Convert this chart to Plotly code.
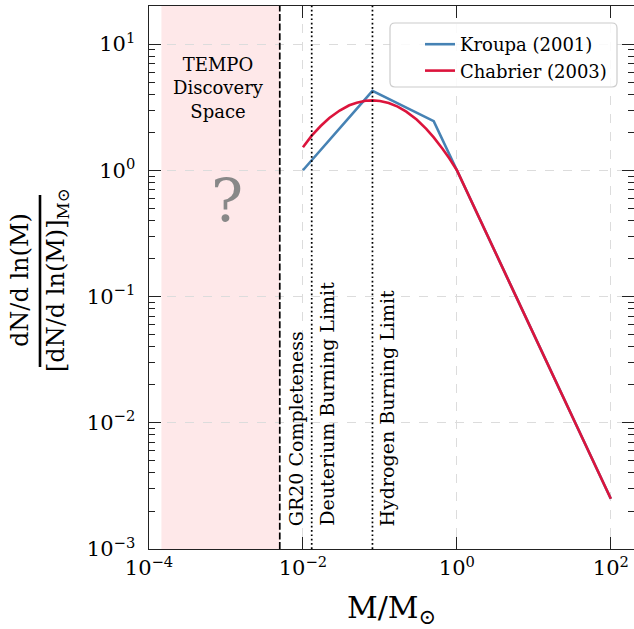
import numpy as np
import plotly.graph_objects as go

# Kroupa (2001) broken power law, normalised to 1 at M = 1 Msun
kroupa_mass = [0.01, 0.08, 0.5, 1.0, 100.0]
kroupa_val = [1.0, 4.26, 2.45, 1.0, 0.0025]

# Chabrier (2003) log-normal + power-law tail, normalised to 1 at M = 1 Msun
chabrier_mass = [0.01, 0.013, 0.017, 0.022, 0.03, 0.04, 0.05, 0.065, 0.08, 0.1,
                 0.13, 0.17, 0.22, 0.3, 0.4, 0.5, 0.65, 0.8, 1.0, 100.0]
chabrier_val = [1.52, 1.88, 2.24, 2.59, 2.97, 3.27, 3.43, 3.55, 3.58, 3.54,
                3.41, 3.19, 2.91, 2.52, 2.13, 1.82, 1.48, 1.24, 1.0, 0.0025]

# Mass limits (Msun)
gr20_limit = 0.005
deuterium_limit = 0.013
hydrogen_limit = 0.08
tempo_lo, tempo_hi = 1.45e-4, 0.005

# Tick labels
x_tick_vals = [1e-4, 1e-2, 1e0, 1e2]
x_tick_text = ["10<sup>−4</sup>", "10<sup>−2</sup>", "10<sup>0</sup>", "10<sup>2</sup>"]
y_tick_vals = [1e-3, 1e-2, 1e-1, 1e0, 1e1]
y_tick_text = ["10<sup>−3</sup>", "10<sup>−2</sup>", "10<sup>−1</sup>", "10<sup>0</sup>", "10<sup>1</sup>"]
y_minor_vals = [d * 10.0 ** e for e in range(-3, 2) for d in range(2, 10) if d * 10.0 ** e <= 20]

FONT = "DejaVu Serif"
INK = "#222222"
LABEL_PAD = "\u2009\u2009"  # keeps y tick labels clear of the inside ticks
W, H = 634, 629
M_L, M_R, M_T, M_B = 149, 0, 6, 80
PW, PH = W - M_L - M_R, H - M_T - M_B


def px(xp):
    """pixel column -> paper x"""
    return (xp - M_L) / PW


def py(yp):
    """pixel row -> paper y"""
    return (H - M_B - yp) / PH


fig = go.Figure()
fig.add_trace(go.Scatter(x=kroupa_mass, y=kroupa_val, mode="lines", name="Kroupa (2001)",
                         line=dict(color="#4682b4", width=2.6)))
fig.add_trace(go.Scatter(x=chabrier_mass, y=chabrier_val, mode="lines", name="Chabrier (2003)",
                         line=dict(color="#dc143c", width=2.6)))

shapes = [
    dict(type="rect", xref="x", yref="paper", x0=tempo_lo, x1=tempo_hi, y0=0, y1=1,
         fillcolor="#fee8e9", line=dict(width=0), layer="below"),
    dict(type="line", xref="x", yref="paper", x0=gr20_limit, x1=gr20_limit, y0=0, y1=1,
         line=dict(color="black", width=1.7, dash="7px,2.6px")),
    dict(type="line", xref="x", yref="paper", x0=deuterium_limit, x1=deuterium_limit, y0=0, y1=1,
         line=dict(color="black", width=1.7, dash="1.7px,2.6px")),
    dict(type="line", xref="x", yref="paper", x0=hydrogen_limit, x1=hydrogen_limit, y0=0, y1=1,
         line=dict(color="black", width=1.7, dash="1.7px,2.6px")),
    # fraction bar of the y-axis label
    dict(type="line", xref="paper", yref="paper", x0=px(40), x1=px(40), y0=py(367), y1=py(195),
         line=dict(color="black", width=2.6)),
]

# rounded legend frame
lx0, lx1, ly0, ly1 = px(390), px(617), py(87), py(23)
rx, ry = 5 / PW, 5 / PH
legend_path = (f"M {lx0 + rx},{ly0} L {lx1 - rx},{ly0} Q {lx1},{ly0} {lx1},{ly0 + ry} "
               f"L {lx1},{ly1 - ry} Q {lx1},{ly1} {lx1 - rx},{ly1} "
               f"L {lx0 + rx},{ly1} Q {lx0},{ly1} {lx0},{ly1 - ry} "
               f"L {lx0},{ly0 + ry} Q {lx0},{ly0} {lx0 + rx},{ly0} Z")
shapes.append(dict(type="path", xref="paper", yref="paper", path=legend_path,
                   fillcolor="rgba(255,255,255,0.85)", line=dict(color="#cccccc", width=1.2),
                   layer="above"))

annotations = [
    dict(text="GR20 Completeness", x=np.log10(gr20_limit), xref="x", xshift=16,
         y=py(528), yref="paper", xanchor="center", yanchor="bottom", textangle=-90,
         showarrow=False, font=dict(family=FONT, size=19, color="black")),
    dict(text="Deuterium Burning Limit", x=np.log10(deuterium_limit), xref="x", xshift=15,
         y=py(528), yref="paper", xanchor="center", yanchor="bottom", textangle=-90,
         showarrow=False, font=dict(family=FONT, size=19, color="black")),
    dict(text="Hydrogen Burning Limit", x=np.log10(hydrogen_limit), xref="x", xshift=15,
         y=py(528), yref="paper", xanchor="center", yanchor="bottom", textangle=-90,
         showarrow=False, font=dict(family=FONT, size=19, color="black")),
    dict(text="TEMPO<br>Discovery<br>Space", x=px(218), y=py(88), xref="paper", yref="paper",
         xanchor="center", yanchor="middle", showarrow=False,
         font=dict(family=FONT, size=18, color="black")),
    dict(text="?", x=px(227), y=py(201), xref="paper", yref="paper",
         xanchor="center", yanchor="middle", showarrow=False,
         font=dict(family=FONT, size=60, color="#888888")),
    # y-axis label as a stacked fraction
    dict(text="dN/d ln(M)", x=px(20), y=py(280), xref="paper", yref="paper",
         xanchor="center", yanchor="middle", textangle=-90, showarrow=False,
         font=dict(family=FONT, size=24, color="black")),
    dict(text="[dN/d ln(M)]<sub>M⊙</sub>", x=px(57), y=py(280), xref="paper", yref="paper",
         xanchor="center", yanchor="middle", textangle=-90, showarrow=False,
         font=dict(family=FONT, size=24, color="black")),
]

axis_common = dict(
    type="log", showline=True, linecolor=INK, linewidth=1.3, mirror="allticks",
    ticks="inside", ticklen=12, tickwidth=1.3, tickcolor=INK,
    showgrid=True, gridcolor="#dcdcdc", gridwidth=1, griddash="dash",
    zeroline=False, tickfont=dict(family=FONT, size=21, color="black"),
)

fig.update_layout(
    width=W, height=H,
    margin=dict(l=M_L, r=M_R, t=M_T, b=M_B),
    paper_bgcolor="white", plot_bgcolor="white",
    font=dict(family=FONT, color="black"),
    showlegend=True,
    legend=dict(x=px(612), xanchor="right", y=py(26), yanchor="top",
                bgcolor="rgba(0,0,0,0)", borderwidth=0,
                font=dict(family=FONT, size=18, color="black"), tracegroupgap=0),
    shapes=shapes,
    annotations=annotations,
    xaxis=dict(axis_common, range=[-4, np.log10(200)], tickmode="array",
               tickvals=x_tick_vals, ticktext=x_tick_text,
               title=dict(text="M/M<sub>⊙</sub>", font=dict(family=FONT, size=30, color="black"),
                          standoff=19)),
    yaxis=dict(axis_common, range=[-3, np.log10(20)], tickmode="array",
               tickvals=y_tick_vals, ticktext=[t + LABEL_PAD for t in y_tick_text],
               minor=dict(ticks="inside", ticklen=6, tickwidth=1.1, tickcolor=INK,
                          tickmode="array", tickvals=y_minor_vals, showgrid=False)),
)

fig.write_html("out.html")
